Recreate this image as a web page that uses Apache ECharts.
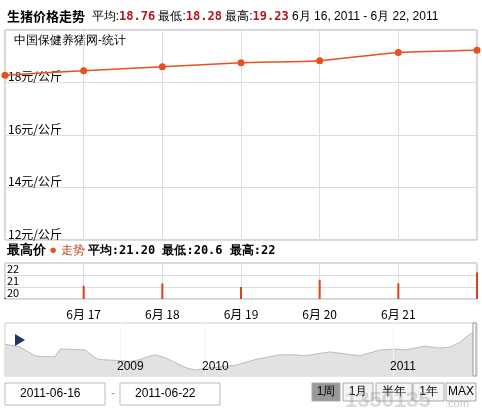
<!DOCTYPE html>
<html><head><meta charset="utf-8">
<script src="https://cdn.jsdelivr.net/npm/echarts@6/dist/echarts.min.js"></script>
<style>body{margin:0}#c{width:482px;height:411px}</style></head>
<body><div id="c"></div>
<script>
const days = ['6月 16', '6月 17', '6月 18', '6月 19', '6月 20', '6月 21', '6月 22'];
const prices = [18.28, 18.45, 18.6, 18.75, 18.83, 19.14, 19.23];
const highs = [19.1, 20.1, 20.3, 20.0, 20.6, 20.3, 21.2];
const priceTicks = [12, 14, 16, 18];
// navigator: long-range price history (index, level)
const navIdx = [0, 5, 15, 20, 30, 40, 45, 50, 55, 60, 80, 90, 95, 115, 125, 135, 140, 150, 160, 170, 180, 190, 200, 220, 230, 250, 275, 290, 300, 325, 355, 375, 390, 400, 410, 420, 435, 445, 455, 463, 468];
const navVal = [33, 32, 30, 27, 21, 20, 20, 20, 28, 28, 27, 19, 17, 16, 15, 17, 19, 22, 19, 14, 9, 6, 8, 10, 11, 17, 22, 22, 21, 25, 21, 27, 28, 27, 29, 31, 29, 30, 35, 42, 45];
const navYears = [{i: 125, t: '2009'}, {i: 210, t: '2010'}, {i: 398, t: '2011'}];

const red = '#e8501e';
const chart = echarts.init(document.getElementById('c'));
const g = {left: 5, right: 5, show: true, borderColor: '#aaa', borderWidth: 1};
chart.setOption({
  animation: false,
  textStyle: {fontFamily: 'SimSun, "Noto Sans CJK SC"'},
  grid: [
    Object.assign({top: 30, height: 210}, g),
    Object.assign({top: 263, height: 36}, g),
    Object.assign({top: 323, height: 53}, g, {borderColor: '#ccc'})
  ],
  xAxis: [
    {gridIndex: 0, type: 'category', data: days, boundaryGap: false,
      axisLine: {show: false}, axisTick: {show: false}, axisLabel: {show: false},
      splitLine: {show: true, lineStyle: {color: '#ddd'}}},
    {gridIndex: 1, type: 'category', data: days, boundaryGap: false,
      axisLine: {show: false}, axisTick: {show: false},
      axisLabel: {color: '#000', fontSize: 12, margin: 9, formatter: (v, i) => (i === 0 || i === 6) ? '' : v},
      splitLine: {show: true, lineStyle: {color: '#ddd'}}},
    {gridIndex: 2, type: 'value', min: 0, max: 472, show: false}
  ],
  yAxis: [
    {gridIndex: 0, type: 'value', min: 12, max: 20, interval: 2,
      axisLine: {show: false}, axisTick: {show: false},
      axisLabel: {inside: true, verticalAlign: 'bottom', color: '#000', fontSize: 12, margin: 3,
        formatter: v => priceTicks.includes(v) ? v + '元/公斤' : ''},
      splitLine: {lineStyle: {color: '#ddd'}}},
    {gridIndex: 1, type: 'value', min: 19, max: 22, interval: 1,
      axisLine: {show: false}, axisTick: {show: false},
      axisLabel: {inside: true, verticalAlign: 'top', color: '#000', fontSize: 11, lineHeight: 11, margin: 2,
        formatter: v => v >= 20 ? String(v) : ''},
      splitLine: {lineStyle: {color: '#ddd'}}},
    {gridIndex: 2, type: 'value', min: 0, max: 55, show: false}
  ],
  series: [
    {type: 'line', xAxisIndex: 0, yAxisIndex: 0, data: prices, smooth: 0.2,
      symbol: 'circle', symbolSize: 7, lineStyle: {color: red, width: 1.5}, itemStyle: {color: red}},
    {type: 'bar', xAxisIndex: 1, yAxisIndex: 1, data: highs, barWidth: 2, itemStyle: {color: '#d9441a'}},
    {type: 'line', xAxisIndex: 2, yAxisIndex: 2, data: navIdx.map((x, i) => [x, navVal[i]]),
      symbol: 'none', lineStyle: {color: '#bbb', width: 1}, areaStyle: {color: '#e2e2e2', opacity: 1},
      markLine: {silent: true, symbol: 'none', label: {show: false}, lineStyle: {color: '#f4f4f4', type: 'solid', width: 1},
        data: navYears.map(y => ({xAxis: y.i - 10}))}}
  ],
  graphic: [
    {type: 'text', left: 7, top: 10, style: {rich: {
      b: {fontWeight: 'bold', fontSize: 13, fill: '#000', fontFamily: 'SimSun, "Noto Sans CJK SC"'},
      n: {fontSize: 12, fill: '#000'},
      r: {fontSize: 12, fill: '#b0161e', fontWeight: 'bold', fontFamily: '"DejaVu Sans Mono"'}
    }, text: '{b|生猪价格走势}  {n|平均:}{r|18.76} {n|最低:}{r|18.28} {n|最高:}{r|19.23} {n|6月 16, 2011 - 6月 22, 2011}'}},
    {type: 'text', left: 14, top: 35, style: {text: '中国保健养猪网-统计', fontSize: 12, fill: '#000'}},
    {type: 'text', left: 7, top: 244, style: {rich: {
      b: {fontWeight: 'bold', fontSize: 13, fill: '#000'},
      o: {fontSize: 13, fill: red},
      r: {fontSize: 12, fill: '#c0431a'},
      n: {fontSize: 12, fill: '#000', fontWeight: 'bold', fontFamily: '"DejaVu Sans Mono"'}
    }, text: '{b|最高价} {o|●} {r|走势} {n|平均:21.20 最低:20.6 最高:22}'}},
    {type: 'polygon', z: 10, shape: {points: [[15, 334], [15, 346], [25, 340]]}, style: {fill: '#1c3763'}},
    {type: 'rect', z: 10, shape: {x: 473, y: 323, width: 3, height: 53}, style: {fill: '#fff', stroke: '#999'}}
  ].concat(navYears.map(y => ({type: 'text', z: 10, left: 5 + y.i - 13, top: 361, style: {text: y.t, fontSize: 12, fill: '#000'}})))
  .concat([
    {type: 'rect', shape: {x: 5, y: 383, width: 100, height: 22}, style: {fill: '#fff', stroke: '#bbb'}},
    {type: 'text', left: 20, top: 388, style: {text: '2011-06-16', fontSize: 12, fill: '#000'}},
    {type: 'text', left: 111, top: 388, style: {text: '-', fontSize: 12, fill: '#999'}},
    {type: 'rect', shape: {x: 120, y: 383, width: 100, height: 22}, style: {fill: '#fff', stroke: '#bbb'}},
    {type: 'text', left: 135, top: 388, style: {text: '2011-06-22', fontSize: 12, fill: '#000'}}
  ])
  .concat([['1周', 312, 28], ['1月', 343, 30], ['半年', 376, 36], ['1年', 413, 31], ['MAX', 446, 30]].map(([t, x, w], i) => ({
    type: 'group', children: [
      {type: 'rect', shape: {x: x, y: 383, width: w, height: 18}, style: {fill: i === 0 ? '#999' : '#f4f4f4', stroke: '#aaa'}},
      {type: 'text', x: x + w / 2, y: 392, style: {text: t, fontSize: 12, fill: '#000', align: 'center', verticalAlign: 'middle'}}
    ]})))
  .concat([{type: 'text', left: 345, top: 390, z: 10, style: {text: '1350135', fontSize: 22, fontWeight: 'bold', fill: 'rgba(150,150,150,0.35)'}},
    {type: 'text', left: 445, top: 398, z: 10, style: {text: '.com', fontSize: 11, fill: 'rgba(150,150,150,0.5)'}}])
});
</script></body></html>
